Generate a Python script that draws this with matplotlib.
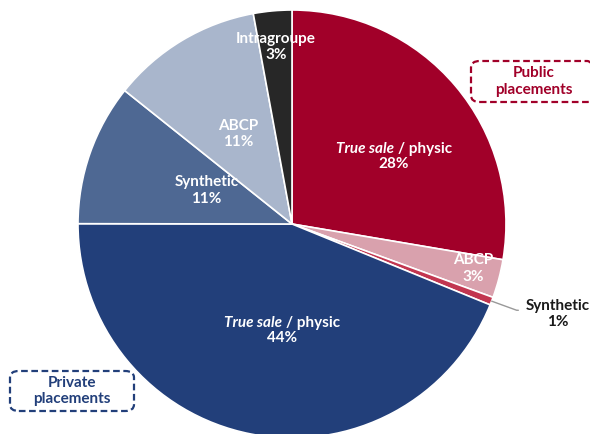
import matplotlib
matplotlib.use('Agg')
import matplotlib.pyplot as plt
from matplotlib.patches import FancyBboxPatch
from matplotlib.transforms import offset_copy
import numpy as np

plt.rcParams['font.family'] = ['Lato', 'DejaVu Sans']

# Data (shares of placements, clockwise from the top)
categories = ['True sale / physic', 'ABCP', 'Synthetic', 'True sale / physic',
              'Synthetic', 'ABCP', 'Intragroupe']
values = [27.7, 2.9, 0.6, 43.9, 10.7, 11.4, 2.9]
pct_labels = ['28%', '3%', '1%', '44%', '11%', '11%', '3%']
colors = ['#A10029', '#D9A1AD', '#C23650', '#223F7A', '#4E6893', '#A9B6CC', '#272727']

W, H = 590, 434
fig = plt.figure(figsize=(W / 100, H / 100), dpi=100)

# pie centre and radius in pixels
cx, cy, R = 292, 224, 214
ax = fig.add_axes([(cx - R) / W, (H - cy - R) / H, 2 * R / W, 2 * R / H])

wedges, _ = ax.pie(values, colors=colors, startangle=90, counterclock=False,
                   radius=1, wedgeprops=dict(edgecolor='white', linewidth=1.2))
ax.set_xlim(-1, 1)
ax.set_ylim(-1, 1)
ax.set_aspect('equal')
ax.axis('off')
for w in wedges:
    w.set_clip_on(False)

# label placement: radius fraction and angle tweak (deg) for each slice
lab_r = [0.57, 0.87, None, 0.50, 0.43, 0.49, 0.83]
lab_dt = [-7, 1, 0, 6, -2, 0, 0]
fs = 11

fig.canvas.draw()
renderer = fig.canvas.get_renderer()

for i, w in enumerate(wedges):
    if lab_r[i] is None:
        continue
    th = np.deg2rad((w.theta1 + w.theta2) / 2 + lab_dt[i])
    x, y = lab_r[i] * np.cos(th), lab_r[i] * np.sin(th)
    name = categories[i]
    if name.startswith('True sale'):
        t1 = ax.text(0, 0, 'True sale', fontsize=fs, fontweight='bold', style='italic', color='white')
        t2 = ax.text(0, 0, '/ physic', fontsize=fs, fontweight='bold', color='white')
        w1 = t1.get_window_extent(renderer).width
        w2 = t2.get_window_extent(renderer).width
        gap = 4
        tot = w1 + gap + w2
        t1.set_position((x, y))
        t1.set_transform(offset_copy(ax.transData, fig=fig, x=-tot / 2, y=1, units='dots'))
        t1.set_ha('left'); t1.set_va('bottom')
        t2.set_position((x, y))
        t2.set_transform(offset_copy(ax.transData, fig=fig, x=-tot / 2 + w1 + gap, y=1, units='dots'))
        t2.set_ha('left'); t2.set_va('bottom')
        ax.text(x, y, pct_labels[i], fontsize=fs, fontweight='bold', color='white',
                ha='center', va='top')
    else:
        ax.text(x, y, name + '\n' + pct_labels[i], fontsize=fs, fontweight='bold',
                color='white', ha='center', va='center', linespacing=1.2)

# outside label for the small synthetic slice
w = wedges[2]
th = np.deg2rad((w.theta1 + w.theta2) / 2)
px, py = np.cos(th), np.sin(th)
ax.annotate('Synthetic\n' + pct_labels[2], xy=(px, py), xycoords='data',
            xytext=(1.24, -0.42), textcoords='data', fontsize=fs, fontweight='bold',
            color='#1a1a1a', ha='center', va='center', linespacing=1.2,
            arrowprops=dict(arrowstyle='-', color='#999999', lw=1, relpos=(0, 0.62),
                            connectionstyle='angle,angleA=0,angleB=-20,rad=0',
                            shrinkA=3, shrinkB=0),
            annotation_clip=False)

# dashed group boxes
def group_box(x0, y0, x1, y1, text, col):
    box = FancyBboxPatch((x0 / W, 1 - y1 / H), (x1 - x0) / W, (y1 - y0) / H,
                         boxstyle='round,pad=0,rounding_size=0.015',
                         transform=fig.transFigure, fill=False, edgecolor=col,
                         linewidth=1.6, linestyle=(0, (3, 1.6)), clip_on=False)
    fig.patches.append(box)
    fig.text((x0 + x1) / 2 / W, 1 - (y0 + y1) / 2 / H, text, fontsize=fs,
             fontweight='bold', color=col, ha='center', va='center', linespacing=1.2)

group_box(471, 61, 596, 102, 'Public\nplacements', '#A10029')
group_box(10, 371, 134, 411, 'Private\nplacements', '#223F7A')

fig.savefig('out.png', dpi=100)
